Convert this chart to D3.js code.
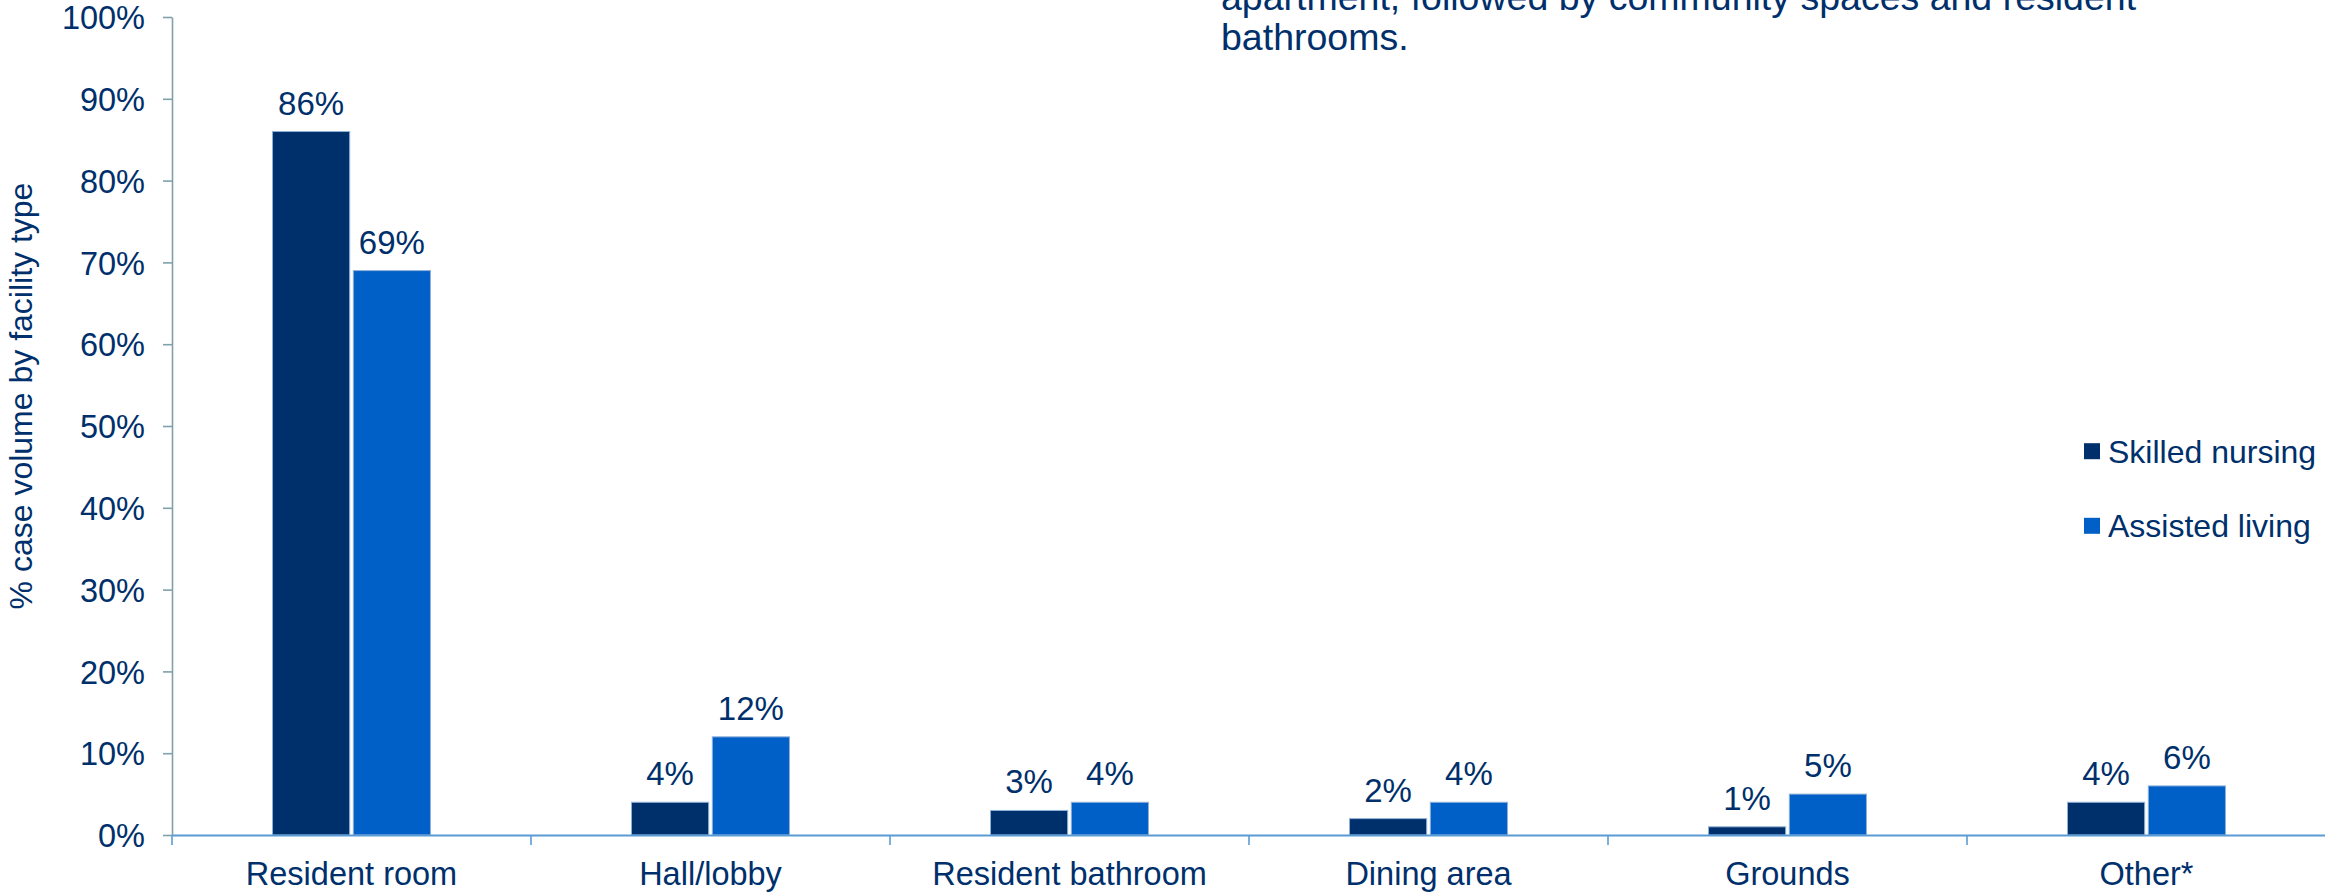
<!DOCTYPE html>
<html>
<head>
<meta charset="utf-8">
<script src="https://cdn.jsdelivr.net/npm/d3@7/dist/d3.min.js"></script>
<style>
  html, body { margin: 0; padding: 0; background: #ffffff; }
  svg { display: block; font-family: "Liberation Sans", Arial, Helvetica, sans-serif; }
</style>
</head>
<body>
<svg id="chart" width="2325" height="892"></svg>
<script>
// Location of cases, share of case volume by facility type
const categories = ["Resident room", "Hall/lobby", "Resident bathroom", "Dining area", "Grounds", "Other*"];
const seriesNames = ["Skilled nursing", "Assisted living"];
const skilledNursing = [86, 4, 3, 2, 1, 4];
const assistedLiving = [69, 12, 4, 4, 5, 6];
const yTickValues = [0, 10, 20, 30, 40, 50, 60, 70, 80, 90, 100];
const yAxisTitle = "% case volume by facility type";
const noteLines = [
  "apartment, followed by community spaces and resident",
  "bathrooms."
];

const seriesValues = [skilledNursing, assistedLiving];
const colors = ["#00306b", "#0060c8"];
const textColor = "#00306b";

const svg = d3.select("#chart");
svg.append("rect").attr("width", 2325).attr("height", 892).attr("fill", "#ffffff");

const axisX = 172, plotTop = 17, baseY = 835, rightEdge = 2326;

const y = d3.scaleLinear().domain([0, 100]).range([baseY, plotTop]);
const x0 = d3.scaleBand().domain(categories).range([axisX, rightEdge]).paddingInner(0).paddingOuter(0);
const bw = x0.bandwidth();
const x1 = d3.scaleBand().domain(seriesNames)
  .range([bw * 0.28, bw * 0.72]).paddingInner(0.045).paddingOuter(0);

// Rows for grouped bars
const rows = categories.map((c, i) => ({
  category: c,
  values: seriesNames.map((s, j) => ({ series: s, idx: j, value: seriesValues[j][i] }))
}));

// Y axis
const yAxis = svg.append("g")
  .attr("transform", `translate(${axisX},0)`)
  .call(d3.axisLeft(y).tickValues(yTickValues).tickFormat(d => d + "%")
    .tickSize(9).tickSizeOuter(0).tickPadding(18));
yAxis.select(".domain").attr("stroke", "#80a0aa").attr("stroke-width", 1.6);
yAxis.selectAll(".tick line").attr("stroke", "#80a0aa").attr("stroke-width", 1.6);
yAxis.selectAll(".tick text")
  .attr("fill", textColor)
  .style("font-size", "32.5px")
  .attr("dy", "0.36em");

// Y axis title
svg.append("text")
  .attr("transform", `translate(32,396) rotate(-90)`)
  .attr("text-anchor", "middle")
  .attr("fill", textColor)
  .style("font-size", "32px")
  .text(yAxisTitle);

// Bars
const groups = svg.append("g").selectAll("g")
  .data(rows)
  .join("g")
  .attr("transform", d => `translate(${x0(d.category)},0)`);

groups.selectAll("rect")
  .data(d => d.values)
  .join("rect")
  .attr("x", d => x1(d.series))
  .attr("y", d => y(d.value))
  .attr("width", x1.bandwidth())
  .attr("height", d => y(0) - y(d.value))
  .attr("fill", d => colors[d.idx])
  .attr("stroke", "#8fb0d8")
  .attr("stroke-width", 1);

// Value labels
groups.selectAll("text")
  .data(d => d.values)
  .join("text")
  .attr("x", d => x1(d.series) + x1.bandwidth() / 2)
  .attr("y", d => y(d.value) - 17)
  .attr("text-anchor", "middle")
  .attr("fill", textColor)
  .style("font-size", "33px")
  .text(d => d.value + "%");

// X axis with category labels
const xAxis = svg.append("g")
  .attr("transform", `translate(0,${baseY})`)
  .call(d3.axisBottom(x0).tickSize(0).tickSizeOuter(0));
xAxis.select(".domain").attr("stroke", "#5b9bd5").attr("stroke-width", 2.2);
xAxis.selectAll(".tick text")
  .attr("fill", textColor)
  .attr("y", 50)
  .attr("dy", null)
  .style("font-size", "32.5px");

// Boundary ticks between categories
const boundaries = categories.map(c => x0(c)).concat([x0.range()[1]]);
svg.append("g").selectAll("line")
  .data(boundaries)
  .join("line")
  .attr("x1", d => d).attr("x2", d => d)
  .attr("y1", baseY).attr("y2", baseY + 10)
  .attr("stroke", "#5b9bd5")
  .attr("stroke-width", 1.6);

// Legend
const legend = svg.append("g").selectAll("g")
  .data(seriesNames)
  .join("g")
  .attr("transform", (d, i) => `translate(2084,${462.7 + i * 74.6})`);
legend.append("rect")
  .attr("x", 0).attr("y", -19.5)
  .attr("width", 16).attr("height", 16)
  .attr("fill", (d, i) => colors[i]);
legend.append("text")
  .attr("x", 24).attr("y", 0)
  .attr("fill", textColor)
  .style("font-size", "32px")
  .text(d => d);

// Note text in the upper right
svg.append("g").selectAll("text")
  .data(noteLines)
  .join("text")
  .attr("x", 1221)
  .attr("y", (d, i) => 9.5 + i * 40.5)
  .attr("fill", textColor)
  .style("font-size", "37.5px")
  .text(d => d);
</script>
</body>
</html>
